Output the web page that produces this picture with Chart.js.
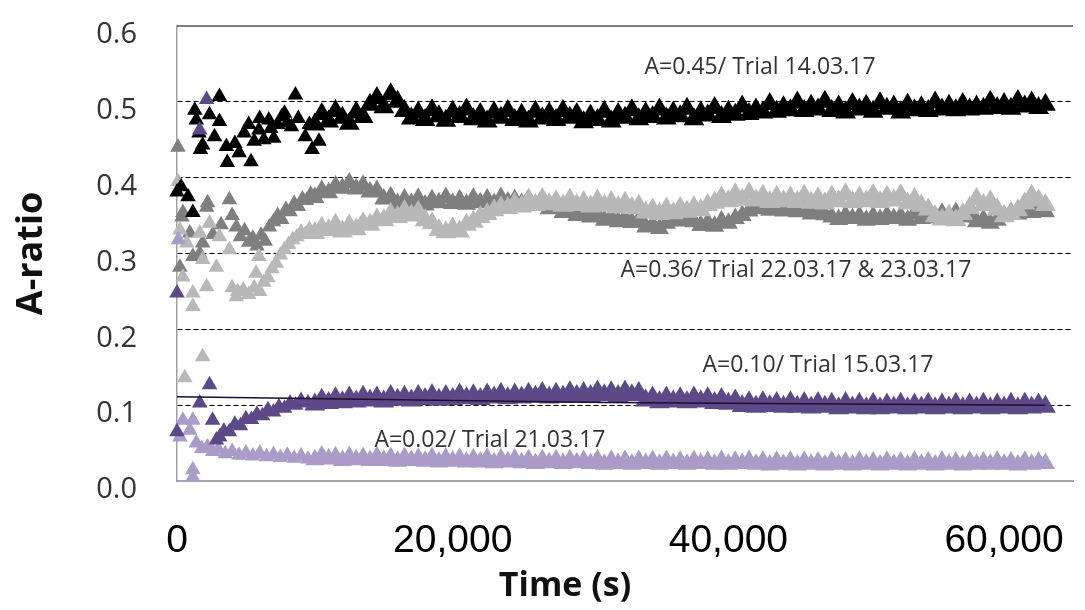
<!DOCTYPE html>
<html>
<head>
<meta charset="utf-8">
<script src="https://cdn.jsdelivr.net/npm/chart.js@4"></script>
<style>
  html, body { margin: 0; padding: 0; background: #fff; }
  #wrap { width: 1085px; height: 610px; }
</style>
</head>
<body>
<div id="wrap"><canvas id="aChart" width="1085" height="610"></canvas></div>
<script>
// axis ticks
const xTickValues = [0, 20000, 40000, 60000];
const yTickValues = [0.0, 0.1, 0.2, 0.3, 0.4, 0.5, 0.6];

// shared time grid after the start-up phase (s)
const lateTimes = [
  10000, 10500, 11000, 11500, 12000, 12500, 13000, 13500, 14000, 14500,
  15000, 15500, 16000, 16500, 17000, 17500, 18000, 18500, 19000, 19500,
  20000, 20500, 21000, 21500, 22000, 22500, 23000, 23500, 24000, 24500,
  25000, 25500, 26000, 26500, 27000, 27500, 28000, 28500, 29000, 29500,
  30000, 30500, 31000, 31500, 32000, 32500, 33000, 33500, 34000, 34500,
  35000, 35500, 36000, 36500, 37000, 37500, 38000, 38500, 39000, 39500,
  40000, 40500, 41000, 41500, 42000, 42500, 43000, 43500, 44000, 44500,
  45000, 45500, 46000, 46500, 47000, 47500, 48000, 48500, 49000, 49500,
  50000, 50500, 51000, 51500, 52000, 52500, 53000, 53500, 54000, 54500,
  55000, 55500, 56000, 56500, 57000, 57500, 58000, 58500, 59000, 59500,
  60000, 60500, 61000, 61500, 62000, 62500, 63000];

// A=0.45 / Trial 14.03.17
const blackEarlyTimes = [0, 300, 800, 1150, 1290, 1400, 1600, 1700, 1860, 2360,
  2720, 3080, 3080, 3580, 3650, 4200, 4510, 4870, 5200, 5370,
  5600, 5940, 6000, 6300, 6660, 6800, 7020, 7300, 7590, 7800,
  8000, 8300, 8590, 8800, 9300, 9600, 9800, 10300];
const blackEarlyValues = [0.381, 0.388, 0.375, 0.354, 0.489, 0.476, 0.459, 0.437, 0.443, 0.483,
  0.454, 0.507, 0.474, 0.441, 0.420, 0.445, 0.433, 0.459, 0.470, 0.421,
  0.448, 0.463, 0.478, 0.450, 0.476, 0.465, 0.452, 0.470, 0.480, 0.485,
  0.472, 0.467, 0.509, 0.478, 0.454, 0.470, 0.437, 0.448];
const blackLateValues = [
  0.470, 0.484, 0.474, 0.488, 0.479, 0.471, 0.486, 0.480, 0.496, 0.505,
  0.493, 0.510, 0.500, 0.488, 0.478, 0.486, 0.476, 0.489, 0.481, 0.475,
  0.487, 0.480, 0.490, 0.477, 0.484, 0.474, 0.486, 0.479, 0.488, 0.476,
  0.483, 0.474, 0.487, 0.478, 0.485, 0.476, 0.488, 0.479, 0.484, 0.473,
  0.482, 0.476, 0.487, 0.474, 0.484, 0.479, 0.489, 0.477, 0.485, 0.480,
  0.490, 0.478, 0.486, 0.481, 0.491, 0.477, 0.486, 0.482, 0.492, 0.480,
  0.487, 0.483, 0.494, 0.484, 0.490, 0.486, 0.497, 0.487, 0.493, 0.489,
  0.499, 0.488, 0.495, 0.490, 0.500, 0.488, 0.494, 0.486, 0.497, 0.490,
  0.495, 0.487, 0.498, 0.491, 0.494, 0.486, 0.496, 0.489, 0.493, 0.488,
  0.499, 0.490, 0.495, 0.489, 0.497, 0.490, 0.494, 0.491, 0.500, 0.492,
  0.497, 0.491, 0.501, 0.494, 0.499, 0.492, 0.496];

// A=0.36 / Trial 22.03.17 (dark grey)
const darkGreyEarlyTimes = [70, 210, 360, 430, 930, 1150, 1650, 1860, 2150, 2220,
  2600, 3200, 3800, 4000, 4300, 4600, 4900, 5200, 5500, 5800,
  6100, 6400, 6700, 7000, 7300, 7600, 7900, 8200, 8500, 8800,
  9100, 9400, 9700];
const darkGreyEarlyValues = [0.440, 0.282, 0.348, 0.354, 0.327, 0.296, 0.300, 0.314, 0.361, 0.367,
  0.325, 0.338, 0.371, 0.350, 0.335, 0.322, 0.330, 0.315, 0.320, 0.310,
  0.324, 0.316, 0.335, 0.342, 0.350, 0.345, 0.358, 0.355, 0.366, 0.362,
  0.372, 0.370, 0.378];
const darkGreyLateValues = [
  0.374, 0.383, 0.380, 0.389, 0.386, 0.393, 0.385, 0.390, 0.381, 0.383,
  0.372, 0.375, 0.366, 0.372, 0.366, 0.373, 0.364, 0.371, 0.367, 0.374,
  0.366, 0.371, 0.365, 0.373, 0.367, 0.372, 0.366, 0.374, 0.368, 0.371,
  0.366, 0.372, 0.364, 0.368, 0.359, 0.362, 0.354, 0.357, 0.350, 0.354,
  0.348, 0.351, 0.344, 0.348, 0.342, 0.347, 0.341, 0.344, 0.335, 0.338,
  0.333, 0.340, 0.346, 0.343, 0.348, 0.342, 0.337, 0.341, 0.336, 0.343,
  0.340, 0.346, 0.350, 0.356, 0.359, 0.362, 0.357, 0.361, 0.356, 0.360,
  0.355, 0.357, 0.352, 0.356, 0.351, 0.348, 0.345, 0.350, 0.346, 0.349,
  0.344, 0.349, 0.345, 0.350, 0.346, 0.349, 0.344, 0.352, 0.346, 0.350,
  0.347, 0.353, 0.349, 0.354, 0.350, 0.348, 0.342, 0.345, 0.340, 0.344,
  0.350, 0.354, 0.352, 0.357, 0.354, 0.358, 0.355];

// A=0.36 / Trial 23.03.17 (light grey)
const lightGreyEarlyTimes = [70, 210, 430, 570, 700, 1150, 1150, 1650, 1860, 1860,
  2150, 2360, 2860, 3080, 3800, 4000, 4300, 4400, 4800, 5200,
  5600, 5730, 5940, 6000, 6000, 6300, 6600, 6900, 7200, 7500,
  7800, 8100, 8400, 8700, 9000, 9300, 9600];
const lightGreyEarlyValues = [0.395, 0.331, 0.269, 0.136, 0.314, 0.248, 0.230, 0.327, 0.164, 0.292,
  0.256, 0.340, 0.282, 0.322, 0.305, 0.255, 0.243, 0.250, 0.252, 0.246,
  0.255, 0.274, 0.296, 0.250, 0.037, 0.262, 0.268, 0.280, 0.287, 0.298,
  0.305, 0.312, 0.318, 0.322, 0.328, 0.325, 0.332];
const lightGreyLateValues = [
  0.327, 0.334, 0.331, 0.338, 0.329, 0.337, 0.332, 0.340, 0.338, 0.345,
  0.344, 0.352, 0.348, 0.356, 0.350, 0.355, 0.344, 0.340, 0.331, 0.328,
  0.333, 0.329, 0.338, 0.342, 0.348, 0.352, 0.357, 0.361, 0.360, 0.366,
  0.362, 0.370, 0.364, 0.372, 0.365, 0.369, 0.363, 0.371, 0.364, 0.368,
  0.362, 0.370, 0.363, 0.368, 0.361, 0.367, 0.360, 0.363, 0.354, 0.358,
  0.352, 0.359, 0.353, 0.360, 0.355, 0.361, 0.357, 0.364, 0.367, 0.374,
  0.369, 0.378, 0.371, 0.379, 0.370, 0.376, 0.368, 0.375, 0.369, 0.374,
  0.368, 0.376, 0.367, 0.373, 0.366, 0.375, 0.369, 0.378, 0.368, 0.374,
  0.369, 0.377, 0.368, 0.375, 0.370, 0.377, 0.366, 0.372, 0.363, 0.358,
  0.349, 0.345, 0.350, 0.344, 0.352, 0.360, 0.372, 0.364, 0.369, 0.358,
  0.349, 0.352, 0.357, 0.366, 0.376, 0.370, 0.364];

// A=0.10 / Trial 15.03.17 (dark purple)
const darkPurpleEarlyTimes = [0, 0, 1650, 2150, 1650, 2360, 2580, 2860, 3100, 3400,
  3800, 4200, 4600, 5000, 5400, 5800, 6200, 6600, 7000, 7400,
  7800, 8200, 8600, 9000, 9500];
const darkPurpleEarlyValues = [0.248, 0.065, 0.463, 0.503, 0.103, 0.127, 0.080, 0.054, 0.058, 0.066,
  0.065, 0.075, 0.073, 0.082, 0.081, 0.088, 0.086, 0.094, 0.091, 0.098,
  0.096, 0.103, 0.100, 0.106, 0.103];
const darkPurpleLateValues = [
  0.101, 0.107, 0.103, 0.109, 0.104, 0.110, 0.105, 0.111, 0.106, 0.110,
  0.105, 0.112, 0.107, 0.111, 0.106, 0.112, 0.108, 0.113, 0.107, 0.112,
  0.108, 0.114, 0.109, 0.113, 0.108, 0.114, 0.110, 0.115, 0.109, 0.114,
  0.110, 0.115, 0.111, 0.116, 0.110, 0.115, 0.111, 0.117, 0.112, 0.116,
  0.112, 0.118, 0.113, 0.117, 0.112, 0.118, 0.113, 0.116, 0.106, 0.110,
  0.104, 0.110, 0.105, 0.109, 0.104, 0.110, 0.105, 0.109, 0.103, 0.108,
  0.102, 0.106, 0.099, 0.104, 0.098, 0.104, 0.099, 0.103, 0.098, 0.104,
  0.098, 0.103, 0.097, 0.103, 0.098, 0.102, 0.096, 0.103, 0.097, 0.102,
  0.096, 0.102, 0.096, 0.101, 0.097, 0.102, 0.096, 0.101, 0.097, 0.102,
  0.096, 0.101, 0.097, 0.102, 0.096, 0.101, 0.097, 0.102, 0.096, 0.101,
  0.097, 0.102, 0.096, 0.102, 0.097, 0.101, 0.098];

// A=0.02 / Trial 21.03.17 (light purple)
const lightPurpleEarlyTimes = [100, 210, 430, 930, 1150, 1150, 1150, 1400, 1800, 2200,
  2600, 3000, 3500, 4000, 4500, 5000, 5500, 6000, 6500, 7000,
  7500, 8000, 8500, 9000, 9500];
const lightPurpleEarlyValues = [0.318, 0.058, 0.080, 0.067, 0.080, 0.015, 0.005, 0.050, 0.043, 0.045,
  0.039, 0.042, 0.036, 0.039, 0.034, 0.037, 0.033, 0.036, 0.032, 0.035,
  0.031, 0.034, 0.030, 0.033, 0.029];
const lightPurpleLateValues = [
  0.028, 0.033, 0.029, 0.032, 0.027, 0.032, 0.028, 0.031, 0.027, 0.032,
  0.027, 0.031, 0.026, 0.031, 0.027, 0.030, 0.026, 0.031, 0.025, 0.030,
  0.026, 0.030, 0.025, 0.029, 0.025, 0.030, 0.024, 0.029, 0.025, 0.029,
  0.024, 0.028, 0.023, 0.028, 0.024, 0.028, 0.023, 0.028, 0.024, 0.027,
  0.023, 0.028, 0.022, 0.027, 0.023, 0.027, 0.022, 0.027, 0.023, 0.027,
  0.022, 0.027, 0.023, 0.026, 0.022, 0.027, 0.023, 0.026, 0.022, 0.027,
  0.022, 0.026, 0.023, 0.027, 0.022, 0.026, 0.021, 0.026, 0.022, 0.026,
  0.021, 0.026, 0.022, 0.025, 0.021, 0.026, 0.022, 0.025, 0.021, 0.026,
  0.022, 0.025, 0.021, 0.026, 0.022, 0.025, 0.021, 0.026, 0.022, 0.025,
  0.021, 0.026, 0.022, 0.025, 0.021, 0.026, 0.022, 0.025, 0.022, 0.026,
  0.022, 0.025, 0.021, 0.026, 0.022, 0.025, 0.023];

// trend line through the 15.03.17 run
const trendTimes = [0, 31000, 63000];
const trendValues = [0.1112, 0.1035, 0.0998];

// text notes on the plot
const noteTexts = ['A=0.45/ Trial 14.03.17', 'A=0.36/ Trial 22.03.17 & 23.03.17',
  'A=0.10/ Trial 15.03.17', 'A=0.02/ Trial 21.03.17'];
const noteTimes = [42300, 44900, 46500, 22700];
const noteValues = [0.545, 0.278, 0.153, 0.054];

function toPoints(times, values) {
  return times.map((t, i) => ({ x: t, y: values[i] }));
}

// scattered start-up markers are small, the long steady runs merge into a band
function series(earlyT, earlyV, lateV, color, bandRadius, order) {
  return {
    data: toPoints(earlyT, earlyV).concat(toPoints(lateTimes, lateV)),
    pointStyle: 'triangle',
    pointRadius: earlyT.map(() => 9).concat(lateTimes.map(() => bandRadius)),
    pointBorderWidth: 0,
    backgroundColor: color,
    borderColor: color,
    showLine: false,
    clip: 14,
    order: order
  };
}

// drop the label overflow padding so the plot box sits where the original does
function noPadding(scale) {
  scale.paddingLeft = 0;
  scale.paddingRight = 0;
  scale.paddingTop = 0;
  scale.paddingBottom = 0;
}

const notesPlugin = {
  id: 'notes',
  afterDatasetsDraw(chart) {
    const { ctx, chartArea, scales } = chart;
    ctx.save();
    // top edge of the plot frame
    ctx.strokeStyle = '#555555';
    ctx.lineWidth = 1.5;
    ctx.beginPath();
    ctx.moveTo(chartArea.left, chartArea.top);
    ctx.lineTo(chartArea.right, chartArea.top);
    ctx.stroke();

    ctx.fillStyle = '#333333';
    ctx.font = '23px "Open Sans"';
    ctx.textAlign = 'center';
    ctx.textBaseline = 'middle';
    noteTexts.forEach((txt, i) => {
      ctx.fillText(txt, scales.x.getPixelForValue(noteTimes[i]), scales.y.getPixelForValue(noteValues[i]));
    });

    // axis titles
    ctx.fillStyle = '#111111';
    ctx.font = 'bold 34px "Open Sans"';
    ctx.fillText('Time (s)', 565, 586);
    ctx.translate(32, (chartArea.top + chartArea.bottom) / 2);
    ctx.rotate(-Math.PI / 2);
    ctx.font = 'bold 36px "Open Sans"';
    ctx.fillText('A-ratio', 0, 0);
    ctx.restore();
  }
};

const ctx = document.getElementById('aChart').getContext('2d');
new Chart(ctx, {
  type: 'scatter',
  data: {
    datasets: [
      {
        data: toPoints(trendTimes, trendValues),
        showLine: true,
        borderColor: '#1a1030',
        borderWidth: 1.5,
        pointRadius: 0,
        order: -1
      },
      series(darkPurpleEarlyTimes, darkPurpleEarlyValues, darkPurpleLateValues, '#5c4a88', 12, 0),
      series(lightPurpleEarlyTimes, lightPurpleEarlyValues, lightPurpleLateValues, '#aa9cc8', 11, 1),
      series(blackEarlyTimes, blackEarlyValues, blackLateValues, '#000000', 12, 2),
      series(lightGreyEarlyTimes, lightGreyEarlyValues, lightGreyLateValues, '#b8b8b8', 12, 3),
      series(darkGreyEarlyTimes, darkGreyEarlyValues, darkGreyLateValues, '#7f7f7f', 11, 4)
    ]
  },
  options: {
    responsive: false,
    animation: false,
    layout: { padding: { top: 26, left: 0, right: 0, bottom: 0 } },
    plugins: { legend: { display: false }, tooltip: { enabled: false } },
    scales: {
      x: {
        type: 'linear',
        min: 0,
        max: 65000,
        afterFit: scale => { scale.height = 129; noPadding(scale); },
        afterBuildTicks: scale => { scale.ticks = xTickValues.map(v => ({ value: v })); },
        grid: { display: false, drawTicks: false },
        border: { display: true, color: '#a6a6a6', width: 2 },
        ticks: {
          padding: 37,
          maxRotation: 0,
          color: '#000000',
          font: { family: '"Liberation Sans", Arial, sans-serif', size: 39 },
          callback: v => v.toLocaleString('en-US')
        }
      },
      y: {
        min: 0,
        max: 0.6,
        afterFit: scale => { scale.width = 177; noPadding(scale); },
        afterBuildTicks: scale => { scale.ticks = yTickValues.map(v => ({ value: v })); },
        grid: {
          drawTicks: false,
          lineWidth: 1,
          color: c => (c.tick && c.tick.value > 0.05 && c.tick.value < 0.55) ? '#000000' : 'rgba(0,0,0,0)'
        },
        border: { display: true, color: '#a0a0a0', width: 1.5, dash: [5, 3] },
        ticks: {
          padding: 40,
          labelOffset: 9,
          color: '#333333',
          font: { family: '"Open Sans"', size: 29 },
          callback: v => v.toFixed(1)
        }
      }
    }
  },
  plugins: [notesPlugin]
});
</script>
</body>
</html>
